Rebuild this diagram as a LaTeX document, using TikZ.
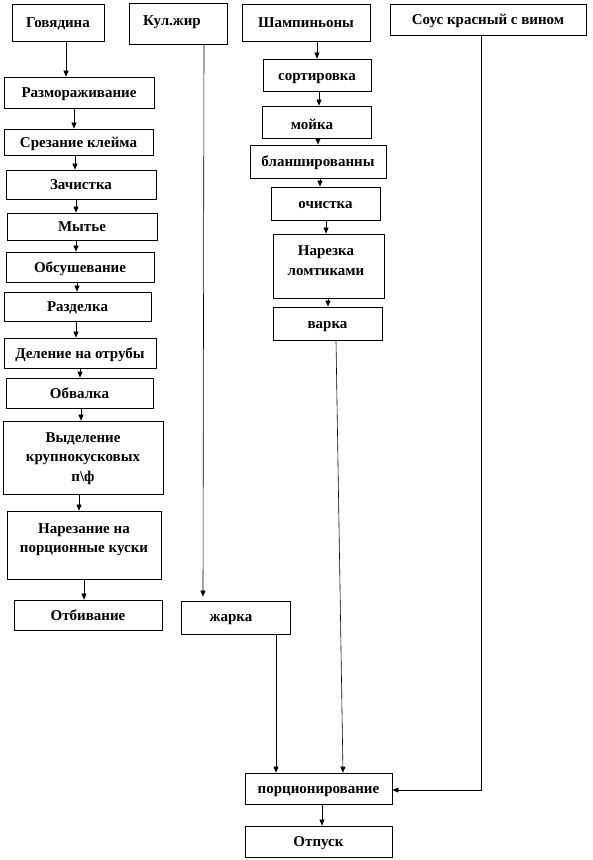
\documentclass[tikz,border=0pt]{standalone}
\usepackage{fontspec}
\setmainfont{Liberation Serif}
\usetikzlibrary{arrows.meta}
\begin{document}
\begin{tikzpicture}[x=1pt,y=-1pt,
  box/.style={draw=black,line width=0.8pt,fill=white,inner sep=2pt,
    text height=14pt,text depth=3.3pt,
    font=\fontsize{15}{19.5}\selectfont\bfseries},
  lbl/.style={align=center,inner sep=0pt,font=\fontsize{15}{19.5}\selectfont\bfseries},
  arr/.style={line width=0.6pt,-{Triangle[length=6pt,width=5pt]}}]
\useasboundingbox (0,0) rectangle (593,860);
% top row
\node[box,minimum width=92pt,minimum height=37pt] (gov) at (58,22.5) {Говядина};
\node[box,minimum width=98pt,minimum height=41pt] (kul) at (178,23.5) {};
\node[lbl] (kult) at (172,22.5) {Кул.жир};
\node[box,minimum width=128pt,minimum height=37pt] (sham) at (306,22.5) {Шампиньоны};
\node[box,minimum width=196pt,minimum height=31pt] (sous) at (488,19.5) {Соус красный с вином};
% left column
\node[box,minimum width=150pt,minimum height=31pt] (razm) at (79,92.5) {Размораживание};
\node[box,minimum width=149pt,minimum height=26pt] (srez) at (78.5,142) {Срезание клейма};
\node[box,minimum width=150pt,minimum height=29pt] (zach) at (81,184.5) {Зачистка};
\node[box,minimum width=150pt,minimum height=27pt] (myt) at (82,226.5) {Мытье};
\node[box,minimum width=148pt,minimum height=30pt] (obsush) at (80,267) {Обсушевание};
\node[box,minimum width=147pt,minimum height=29pt] (razd) at (77.5,306.5) {Разделка};
\node[box,minimum width=152pt,minimum height=30pt] (delen) at (80,353) {Деление на отрубы};
\node[box,minimum width=147pt,minimum height=30pt] (obval) at (79.5,393) {Обвалка};
\node[box,minimum width=160pt,minimum height=73pt] (vyd) at (83,457.5) {};
\node[lbl] (vydt) at (83,458.5) {Выделение\\крупнокусковых\\п\textbackslash ф};
\node[box,minimum width=154pt,minimum height=68pt] (narez) at (84,545) {};
\node[lbl] (nareztext) at (84,539.5) {Нарезание на\\порционные куски};
\node[box,minimum width=148pt,minimum height=30pt] (otbiv) at (88,615) {Отбивание};
% middle
\node[box,minimum width=109pt,minimum height=33pt] (zhar) at (235.5,617.5) {};
\node[lbl] (zhart) at (231,620) {жарка};
% mushrooms column
\node[box,minimum width=108pt,minimum height=32pt] (sort) at (317,75) {сортировка};
\node[box,minimum width=109pt,minimum height=32pt] (moika) at (316.5,122) {};
\node[lbl] (moikat) at (312,124) {мойка};
\node[box,minimum width=136pt,minimum height=33pt] (blansh) at (318,161.5) {бланшированны};
\node[box,minimum width=109pt,minimum height=33pt] (ochist) at (325.5,203.5) {очистка};
\node[box,minimum width=111pt,minimum height=64pt] (narezka) at (328.5,266) {};
\node[lbl] (narezkat) at (326,260.5) {Нарезка\\ломтиками};
\node[box,minimum width=109pt,minimum height=33pt] (varka) at (327.5,323.5) {варка};
% bottom
\node[box,minimum width=147pt,minimum height=31pt] (porc) at (318.5,788.5) {порционирование};
\node[box,minimum width=147pt,minimum height=31pt] (otpusk) at (318.5,841.5) {Отпуск};
% connectors left
\draw[arr] (gov.south -| 66,0) -- (razm.north -| 66,0);
\draw[arr] (razm.south -| 74,0) -- (srez.north -| 74,0);
\draw[arr] (srez.south -| 75,0) -- (zach.north -| 75,0);
\draw[arr] (zach.south -| 76,0) -- (myt.north -| 76,0);
\draw[arr] (myt.south -| 76,0) -- (obsush.north -| 76,0);
\draw[arr] (obsush.south -| 77,0) -- (razd.north -| 77,0);
\draw[arr] (razd.south -| 76,0) -- (delen.north -| 76,0);
\draw[arr] (delen.south -| 80,0) -- (obval.north -| 80,0);
\draw[arr] (obval.south -| 81,0) -- (vyd.north -| 81,0);
\draw[arr] (vyd.south -| 79,0) -- (narez.north -| 79,0);
\draw[arr] (narez.south -| 84,0) -- (otbiv.north -| 84,0);
% kul.zhir
\draw[arr] (kul.south -| 204,0) -- ([yshift=4pt]zhar.north -| 203,0);
% mushrooms
\draw[arr] (sham.south -| 317,0) -- (sort.north -| 317,0);
\draw[arr] (sort.south -| 319,0) -- (moika.north -| 319,0);
\draw[arr] (moika.south -| 318,0) -- (blansh.north -| 318,0);
\draw[arr] (blansh.south -| 320,0) -- (ochist.north -| 320,0);
\draw[arr] (ochist.south -| 326,0) -- (narezka.north -| 326,0);
\draw[arr] (narezka.south -| 328,0) -- (varka.north -| 328,0);
\draw[arr] (varka.south -| 336,0) -- (porc.north -| 343,0);
% to portioning
\draw[arr] (zhar.south -| 276,0) -- (porc.north -| 276,0);
\coordinate (sc) at (481,790);
\draw[arr] (sous.south -| sc) -- (sc) -- (porc.east |- sc);
\draw[arr] (porc.south -| 322,0) -- (otpusk.north -| 322,0);
\end{tikzpicture}
\end{document}
